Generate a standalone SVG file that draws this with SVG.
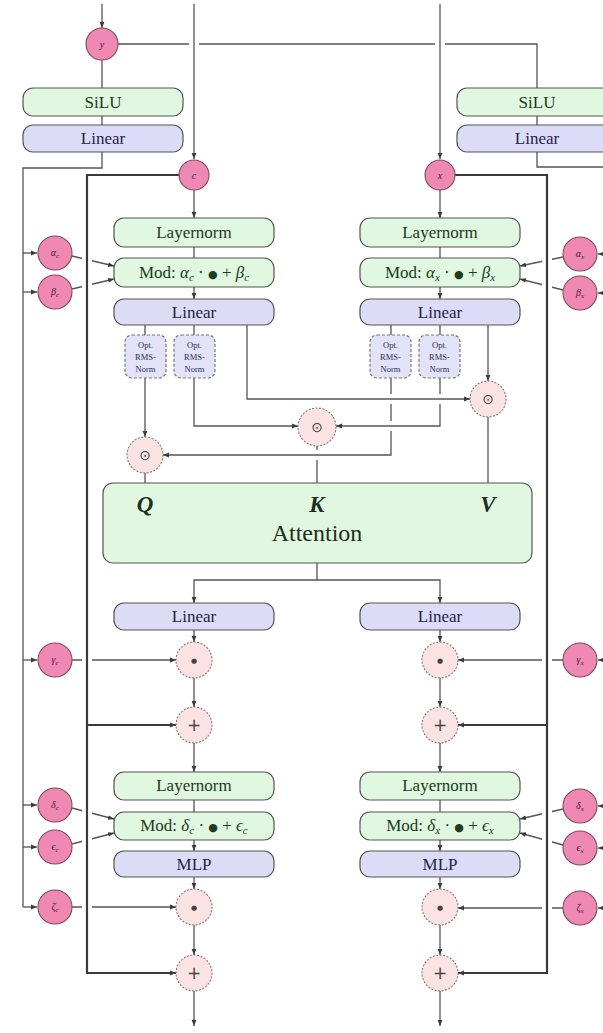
<svg xmlns="http://www.w3.org/2000/svg" width="603" height="1033" viewBox="0 0 603 1033">
  <defs>
    <marker id="ah" viewBox="0 0 10 10" refX="10" refY="5" markerWidth="6" markerHeight="6" markerUnits="userSpaceOnUse" orient="auto">
      <path d="M0,1 L10,5 L0,9 z" fill="#3c3c3c"/>
    </marker>
    <style>
      .ln { fill: none; stroke: #555; stroke-width: 1.3; }
      .res { fill: none; stroke: #3a3a3a; stroke-width: 2.2; }
      .halo { fill: none; stroke: #fff; stroke-width: 10; }
      .arr { marker-end: url(#ah); }
      .gbox { fill: #e0f7e0; stroke: #555; stroke-width: 1.2; }
      .bbox { fill: #dcdcf6; stroke: #555; stroke-width: 1.2; }
      .opt { fill: #e2e2f8; stroke: #777; stroke-width: 1.2; stroke-dasharray: 3 2; }
      .par { fill: #ef88b3; stroke: #7a4c5e; stroke-width: 1.1; }
      .op { fill: #fbe3e3; stroke: #8a7474; stroke-width: 1.1; stroke-dasharray: 2 1.5; }
      text { font-family: "Liberation Serif", "DejaVu Serif", serif; text-anchor: middle; }
      .tg { font-size: 17px; fill: #223a22; }
      .tb { font-size: 17px; fill: #22254a; }
      .to { font-size: 8.5px; fill: #2a2d55; }
      .tp { font-size: 10px; fill: #4a2030; font-style: italic; }
      .sym { font-family: "DejaVu Sans", sans-serif; fill: #444; }
      .it { font-style: italic; }
      .bul { font-family: "DejaVu Sans", sans-serif; font-size: 11px; }
      .qkv { font-size: 23px; font-style: italic; font-weight: bold; fill: #1e2e1e; }
    </style>
  </defs>

  <!-- connectors -->
  <g id="connectors">
    <!-- conditioning y path to both sides -->
    <path class="ln" d="M118,44 H537 V167 H615"/>
    <path class="ln" d="M102,60 V168 H23 V907"/>
    <path class="halo" d="M194,30 V58 M440,30 V58"/>
    <path class="ln arr" d="M102,4 V28"/>
    <path class="ln arr" d="M194,4 V159"/>
    <path class="ln arr" d="M440,4 V159"/>

    <!-- outer left feed into modulation params -->
    <path class="ln arr" d="M23,253 H37"/>
    <path class="ln arr" d="M23,292 H37"/>
    <path class="ln arr" d="M23,660 H37"/>
    <path class="ln arr" d="M23,805 H37"/>
    <path class="ln arr" d="M23,847 H37"/>
    <path class="ln arr" d="M23,907 H37"/>
    <!-- outer right feed (line runs beyond the right edge) -->
    <path class="ln arr" d="M615,254 H598"/>
    <path class="ln arr" d="M615,293 H598"/>
    <path class="ln arr" d="M615,660 H598"/>
    <path class="ln arr" d="M615,806 H598"/>
    <path class="ln arr" d="M615,848 H598"/>
    <path class="ln arr" d="M615,908 H598"/>

    <!-- params into modulation / gates -->
    <path class="ln arr" d="M72,256 L114,266"/>
    <path class="ln arr" d="M72,289 L114,279"/>
    <path class="ln arr" d="M72,808 L114,819"/>
    <path class="ln arr" d="M72,844 L114,833"/>
    <path class="ln arr" d="M72,660 H176"/>
    <path class="ln arr" d="M72,907 H176"/>
    <path class="ln arr" d="M563,257 L520,266"/>
    <path class="ln arr" d="M563,290 L520,279"/>
    <path class="ln arr" d="M563,809 L520,819"/>
    <path class="ln arr" d="M563,845 L520,833"/>
    <path class="ln arr" d="M563,660 H458"/>
    <path class="ln arr" d="M563,908 H458"/>

    <!-- residual streams -->
    <path class="halo" d="M87,180 V968 M547,180 V968"/>
    <path class="res arr" d="M179,175 H87 V973 H176"/>
    <path class="res arr" d="M87,725 H176"/>
    <path class="res arr" d="M455,175 H547 V973 H458"/>
    <path class="res arr" d="M547,725 H458"/>

    <!-- upper block flow -->
    <path class="ln arr" d="M194,190 V218"/>
    <path class="ln" d="M194,247 V258"/>
    <path class="ln arr" d="M194,287 V299"/>
    <path class="ln arr" d="M440,190 V218"/>
    <path class="ln" d="M440,247 V258"/>
    <path class="ln arr" d="M440,287 V299"/>

    <!-- q/k/v projections -->
    <path class="ln" d="M145,325 V335 M194,325 V335 M391,325 V335 M440,325 V335"/>
    <path class="ln arr" d="M145,378 V437"/>
    <path class="ln arr" d="M194,378 V426 H298"/>
    <path class="ln arr" d="M247,325 V399 H470"/>
    <path class="ln arr" d="M488,325 V381"/>
    <path class="ln" d="M440,378 V394"/>
    <path class="ln arr" d="M440,404 V426 H336"/>
    <path class="ln" d="M391,378 V394 M391,404 V421"/>
    <path class="ln arr" d="M391,431 V455 H163"/>
    <path class="ln" d="M145,473 V483"/>
    <path class="ln" d="M317,446 V450 M317,460 V483"/>
    <path class="ln" d="M488,417 V483"/>

    <!-- attention output split -->
    <path class="ln arr" d="M317,563 V580 H194 V603"/>
    <path class="ln arr" d="M317,580 H440 V603"/>

    <!-- lower block flow, left -->
    <path class="ln arr" d="M194,630 V642"/>
    <path class="ln arr" d="M194,678 V707"/>
    <path class="ln arr" d="M194,743 V772"/>
    <path class="ln" d="M194,800 V812"/>
    <path class="ln arr" d="M194,840 V851"/>
    <path class="ln arr" d="M194,877 V889"/>
    <path class="ln arr" d="M194,925 V955"/>
    <path class="ln arr" d="M194,991 V1026"/>
    <!-- lower block flow, right -->
    <path class="ln arr" d="M440,630 V642"/>
    <path class="ln arr" d="M440,678 V707"/>
    <path class="ln arr" d="M440,743 V772"/>
    <path class="ln" d="M440,800 V812"/>
    <path class="ln arr" d="M440,840 V851"/>
    <path class="ln arr" d="M440,877 V889"/>
    <path class="ln arr" d="M440,925 V955"/>
    <path class="ln arr" d="M440,991 V1026"/>
  </g>

  <!-- inputs -->
  <g id="in-y"><circle class="par" cx="102" cy="44" r="16"/><text class="tp" x="102" y="48" font-size="12">y</text></g>
  <g id="in-c"><circle class="par" cx="194" cy="175" r="15"/><text class="tp" x="194" y="179" font-size="12">c</text></g>
  <g id="in-x"><circle class="par" cx="440" cy="175" r="15"/><text class="tp" x="440" y="179" font-size="12">x</text></g>

  <!-- conditioning MLPs -->
  <g id="silu-l"><rect class="gbox" x="23" y="88" width="160" height="28" rx="10"/><text class="tg" x="103" y="108">SiLU</text></g>
  <g id="lin-l"><rect class="bbox" x="23" y="125" width="160" height="27" rx="10"/><text class="tb" x="103" y="144">Linear</text></g>
  <g id="silu-r"><rect class="gbox" x="457" y="88" width="160" height="28" rx="10"/><text class="tg" x="537" y="108">SiLU</text></g>
  <g id="lin-r"><rect class="bbox" x="457" y="125" width="160" height="27" rx="10"/><text class="tb" x="537" y="144">Linear</text></g>

  <!-- modulation parameters, left -->
  <g id="alpha-c"><circle class="par" cx="55" cy="253" r="17"/><text class="tp" x="55" y="256">α<tspan font-size="7" dy="2">c</tspan></text></g>
  <g id="beta-c"><circle class="par" cx="55" cy="292" r="17"/><text class="tp" x="55" y="295">β<tspan font-size="7" dy="2">c</tspan></text></g>
  <g id="gamma-c"><circle class="par" cx="55" cy="660" r="17"/><text class="tp" x="55" y="663">γ<tspan font-size="7" dy="2">c</tspan></text></g>
  <g id="delta-c"><circle class="par" cx="55" cy="805" r="17"/><text class="tp" x="55" y="808">δ<tspan font-size="7" dy="2">c</tspan></text></g>
  <g id="eps-c"><circle class="par" cx="55" cy="847" r="17"/><text class="tp" x="55" y="850">ϵ<tspan font-size="7" dy="2">c</tspan></text></g>
  <g id="zeta-c"><circle class="par" cx="55" cy="907" r="17"/><text class="tp" x="55" y="910">ζ<tspan font-size="7" dy="2">c</tspan></text></g>

  <!-- modulation parameters, right -->
  <g id="alpha-x"><circle class="par" cx="580" cy="254" r="17"/><text class="tp" x="580" y="257">α<tspan font-size="7" dy="2">x</tspan></text></g>
  <g id="beta-x"><circle class="par" cx="580" cy="293" r="17"/><text class="tp" x="580" y="296">β<tspan font-size="7" dy="2">x</tspan></text></g>
  <g id="gamma-x"><circle class="par" cx="580" cy="660" r="17"/><text class="tp" x="580" y="663">γ<tspan font-size="7" dy="2">x</tspan></text></g>
  <g id="delta-x"><circle class="par" cx="580" cy="806" r="17"/><text class="tp" x="580" y="809">δ<tspan font-size="7" dy="2">x</tspan></text></g>
  <g id="eps-x"><circle class="par" cx="580" cy="848" r="17"/><text class="tp" x="580" y="851">ϵ<tspan font-size="7" dy="2">x</tspan></text></g>
  <g id="zeta-x"><circle class="par" cx="580" cy="908" r="17"/><text class="tp" x="580" y="911">ζ<tspan font-size="7" dy="2">x</tspan></text></g>

  <!-- upper block, left -->
  <g id="ln1-c"><rect class="gbox" x="114" y="218" width="160" height="29" rx="10"/><text class="tg" x="194" y="238">Layernorm</text></g>
  <g id="mod1-c"><rect class="gbox" x="114" y="258" width="160" height="29" rx="10"/><text class="tg" x="194" y="278">Mod: <tspan class="it">α</tspan><tspan class="it" font-size="11" dy="3">c</tspan><tspan dy="-3"> · </tspan><tspan class="bul">●</tspan><tspan> + </tspan><tspan class="it">β</tspan><tspan class="it" font-size="11" dy="3">c</tspan></text></g>
  <g id="lin1-c"><rect class="bbox" x="114" y="299" width="160" height="26" rx="10"/><text class="tb" x="194" y="318">Linear</text></g>
  <g id="rms-qc"><rect class="opt" x="125" y="335" width="41" height="43" rx="7"/><text class="to" x="145.5" y="348">Opt.<tspan x="145.5" dy="12">RMS-</tspan><tspan x="145.5" dy="12">Norm</tspan></text></g>
  <g id="rms-kc"><rect class="opt" x="174" y="335" width="41" height="43" rx="7"/><text class="to" x="194.5" y="348">Opt.<tspan x="194.5" dy="12">RMS-</tspan><tspan x="194.5" dy="12">Norm</tspan></text></g>

  <!-- upper block, right -->
  <g id="ln1-x"><rect class="gbox" x="360" y="218" width="160" height="29" rx="10"/><text class="tg" x="440" y="238">Layernorm</text></g>
  <g id="mod1-x"><rect class="gbox" x="360" y="258" width="160" height="29" rx="10"/><text class="tg" x="440" y="278">Mod: <tspan class="it">α</tspan><tspan class="it" font-size="11" dy="3">x</tspan><tspan dy="-3"> · </tspan><tspan class="bul">●</tspan><tspan> + </tspan><tspan class="it">β</tspan><tspan class="it" font-size="11" dy="3">x</tspan></text></g>
  <g id="lin1-x"><rect class="bbox" x="360" y="299" width="160" height="26" rx="10"/><text class="tb" x="440" y="318">Linear</text></g>
  <g id="rms-qx"><rect class="opt" x="370" y="335" width="41" height="43" rx="7"/><text class="to" x="390.5" y="348">Opt.<tspan x="390.5" dy="12">RMS-</tspan><tspan x="390.5" dy="12">Norm</tspan></text></g>
  <g id="rms-kx"><rect class="opt" x="419" y="335" width="41" height="43" rx="7"/><text class="to" x="439.5" y="348">Opt.<tspan x="439.5" dy="12">RMS-</tspan><tspan x="439.5" dy="12">Norm</tspan></text></g>

  <!-- concatenations -->
  <g id="cat-v"><circle class="op" cx="488" cy="399" r="18"/><text class="sym" x="488" y="404" font-size="14">⊙</text></g>
  <g id="cat-k"><circle class="op" cx="317" cy="427" r="19"/><text class="sym" x="317" y="432" font-size="14">⊙</text></g>
  <g id="cat-q"><circle class="op" cx="145" cy="455" r="18"/><text class="sym" x="145" y="460" font-size="14">⊙</text></g>

  <!-- joint attention -->
  <g id="attention">
    <rect class="gbox" x="103" y="483" width="429" height="80" rx="10"/>
    <text class="qkv" x="145" y="512">Q</text>
    <text class="qkv" x="317" y="512">K</text>
    <text class="qkv" x="488" y="512">V</text>
    <text x="317" y="541" font-size="24" fill="#1e2e1e">Attention</text>
  </g>

  <!-- lower block, left -->
  <g id="lin2-c"><rect class="bbox" x="114" y="603" width="160" height="27" rx="10"/><text class="tb" x="194" y="622">Linear</text></g>
  <g id="mul1-c"><circle class="op" cx="194" cy="660" r="18"/><text class="sym" x="194" y="663" font-size="7">●</text></g>
  <g id="add1-c"><circle class="op" cx="194" cy="725" r="18"/><text class="sym" x="194" y="731" font-size="17">+</text></g>
  <g id="ln2-c"><rect class="gbox" x="114" y="772" width="160" height="28" rx="10"/><text class="tg" x="194" y="791">Layernorm</text></g>
  <g id="mod2-c"><rect class="gbox" x="114" y="812" width="160" height="28" rx="10"/><text class="tg" x="194" y="831">Mod: <tspan class="it">δ</tspan><tspan class="it" font-size="11" dy="3">c</tspan><tspan dy="-3"> · </tspan><tspan class="bul">●</tspan><tspan> + </tspan><tspan class="it">ϵ</tspan><tspan class="it" font-size="11" dy="3">c</tspan></text></g>
  <g id="mlp-c"><rect class="bbox" x="114" y="851" width="160" height="26" rx="10"/><text class="tb" x="194" y="870">MLP</text></g>
  <g id="mul2-c"><circle class="op" cx="194" cy="907" r="18"/><text class="sym" x="194" y="910" font-size="7">●</text></g>
  <g id="add2-c"><circle class="op" cx="194" cy="973" r="18"/><text class="sym" x="194" y="979" font-size="17">+</text></g>

  <!-- lower block, right -->
  <g id="lin2-x"><rect class="bbox" x="360" y="603" width="160" height="27" rx="10"/><text class="tb" x="440" y="622">Linear</text></g>
  <g id="mul1-x"><circle class="op" cx="440" cy="660" r="18"/><text class="sym" x="440" y="663" font-size="7">●</text></g>
  <g id="add1-x"><circle class="op" cx="440" cy="725" r="18"/><text class="sym" x="440" y="731" font-size="17">+</text></g>
  <g id="ln2-x"><rect class="gbox" x="360" y="772" width="160" height="28" rx="10"/><text class="tg" x="440" y="791">Layernorm</text></g>
  <g id="mod2-x"><rect class="gbox" x="360" y="812" width="160" height="28" rx="10"/><text class="tg" x="440" y="831">Mod: <tspan class="it">δ</tspan><tspan class="it" font-size="11" dy="3">x</tspan><tspan dy="-3"> · </tspan><tspan class="bul">●</tspan><tspan> + </tspan><tspan class="it">ϵ</tspan><tspan class="it" font-size="11" dy="3">x</tspan></text></g>
  <g id="mlp-x"><rect class="bbox" x="360" y="851" width="160" height="26" rx="10"/><text class="tb" x="440" y="870">MLP</text></g>
  <g id="mul2-x"><circle class="op" cx="440" cy="907" r="18"/><text class="sym" x="440" y="910" font-size="7">●</text></g>
  <g id="add2-x"><circle class="op" cx="440" cy="973" r="18"/><text class="sym" x="440" y="979" font-size="17">+</text></g>
</svg>
